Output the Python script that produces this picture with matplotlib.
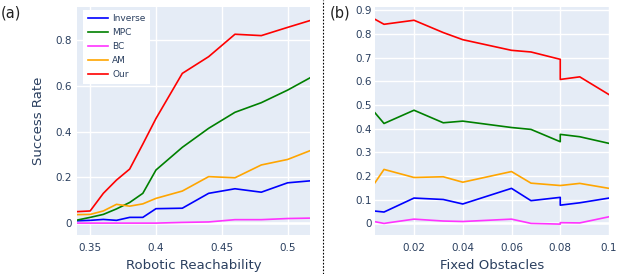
import matplotlib.pyplot as plt
from matplotlib.lines import Line2D

# (a) success rate vs robotic reachability
reach = [0.34, 0.35, 0.36, 0.37, 0.38, 0.39, 0.40, 0.42, 0.44, 0.46, 0.48, 0.50, 0.52]
a_inverse = [0.010, 0.012, 0.016, 0.012, 0.025, 0.025, 0.063, 0.065, 0.130, 0.150, 0.135, 0.176, 0.186]
a_mpc = [0.013, 0.025, 0.038, 0.062, 0.090, 0.130, 0.232, 0.331, 0.414, 0.484, 0.526, 0.581, 0.644]
a_bc = [0.0, 0.0, 0.0, 0.0, 0.0, 0.0, 0.0, 0.003, 0.005, 0.015, 0.015, 0.020, 0.022]
a_am = [0.037, 0.038, 0.053, 0.082, 0.074, 0.084, 0.108, 0.140, 0.203, 0.198, 0.254, 0.278, 0.323]
a_our = [0.050, 0.053, 0.130, 0.188, 0.236, 0.345, 0.457, 0.654, 0.727, 0.825, 0.819, 0.855, 0.890]

# (b) success rate vs fixed obstacles
obst = [0.004, 0.0077, 0.02, 0.032, 0.04, 0.06, 0.068, 0.08, 0.08, 0.088, 0.1]
b_inverse = [0.052, 0.048, 0.107, 0.101, 0.082, 0.148, 0.096, 0.110, 0.077, 0.087, 0.107]
b_mpc = [0.467, 0.422, 0.478, 0.425, 0.432, 0.405, 0.397, 0.345, 0.376, 0.366, 0.338]
b_bc = [0.007, 0.0, 0.018, 0.010, 0.008, 0.018, 0.0, -0.003, 0.003, 0.002, 0.028]
b_am = [0.172, 0.228, 0.194, 0.197, 0.174, 0.219, 0.170, 0.160, 0.160, 0.169, 0.148]
b_our = [0.862, 0.841, 0.858, 0.806, 0.776, 0.731, 0.724, 0.693, 0.608, 0.619, 0.544]

names = ["Inverse", "MPC", "BC", "AM", "Our"]
colors = ["#0000ff", "#008000", "#ff33ff", "#ffa500", "#ff0000"]

BG = "#e5ecf6"
TXT = "#2a3f5f"

fig = plt.figure(figsize=(6.18, 2.74), dpi=100)
ax1 = fig.add_axes([77 / 618, 1 - 235 / 274, 233 / 618, 228 / 274])
ax2 = fig.add_axes([375 / 618, 1 - 235 / 274, 234 / 618, 228 / 274])


def style(ax, ypad):
    ax.set_facecolor(BG)
    for s in ax.spines.values():
        s.set_visible(False)
    ax.grid(True, color="white", lw=1)
    ax.set_axisbelow(True)
    ax.tick_params(length=0, labelsize=7.5, colors=TXT)
    ax.tick_params(axis="x", pad=6)
    ax.tick_params(axis="y", pad=ypad)


style(ax1, 4)
for ys, c in zip([a_inverse, a_mpc, a_bc, a_am, a_our], colors):
    ax1.plot(reach, ys, color=c, lw=1.2, clip_on=True)
ax1.set_xlim(0.34, 0.517)
ax1.set_ylim(-0.052, 0.944)
ax1.set_xticks([0.35, 0.4, 0.45, 0.5])
ax1.set_xticklabels(["0.35", "0.4", "0.45", "0.5"])
ax1.set_yticks([0, 0.2, 0.4, 0.6, 0.8])
ax1.set_yticklabels(["0", "0.2", "0.4", "0.6", "0.8"])
ax1.axhline(0, color="white", lw=1.8, zorder=1)
ax1.set_xlabel("Robotic Reachability", fontsize=9.5, color=TXT, labelpad=4)
ax1.set_ylabel("Success Rate", fontsize=9.5, color=TXT, labelpad=7)
handles = [Line2D([0], [0], color=c, lw=1.2) for c in colors]
leg = ax1.legend(handles, names, loc="upper left", bbox_to_anchor=(0.02, 0.995),
                 fontsize=6.5, frameon=True, fancybox=False, framealpha=1,
                 handlelength=2.2, handletextpad=0.5, labelspacing=0.55,
                 borderpad=0.5, borderaxespad=0.2)
leg.get_frame().set_facecolor("white")
leg.get_frame().set_linewidth(0)
for t in leg.get_texts():
    t.set_color(TXT)

style(ax2, 2)
for ys, c in zip([b_inverse, b_mpc, b_bc, b_am, b_our], colors):
    ax2.plot(obst, ys, color=c, lw=1.2)
ax2.set_xlim(0.004, 0.1)
ax2.set_ylim(-0.049, 0.914)
ax2.set_xticks([0.02, 0.04, 0.06, 0.08, 0.1])
ax2.set_xticklabels(["0.02", "0.04", "0.06", "0.08", "0.1"])
ax2.set_yticks([0, 0.1, 0.2, 0.3, 0.4, 0.5, 0.6, 0.7, 0.8, 0.9])
ax2.set_yticklabels(["0", "0.1", "0.2", "0.3", "0.4", "0.5", "0.6", "0.7", "0.8", "0.9"])
ax2.axhline(0, color="white", lw=1.8, zorder=1)
ax2.set_xlabel("Fixed Obstacles", fontsize=9.5, color=TXT, labelpad=4)

# panel labels and separator
fig.text(1 / 618, 1 - 13 / 274, "(a)", fontsize=10.5, color="#222222", va="center")
fig.text(330 / 618, 1 - 13 / 274, "(b)", fontsize=10.5, color="#222222", va="center")
fig.add_artist(Line2D([323 / 618, 323 / 618], [0, 1], color="black", lw=0.8,
                      linestyle=(0, (1.5, 1.5)), transform=fig.transFigure))

fig.savefig("out.png", dpi=100)
